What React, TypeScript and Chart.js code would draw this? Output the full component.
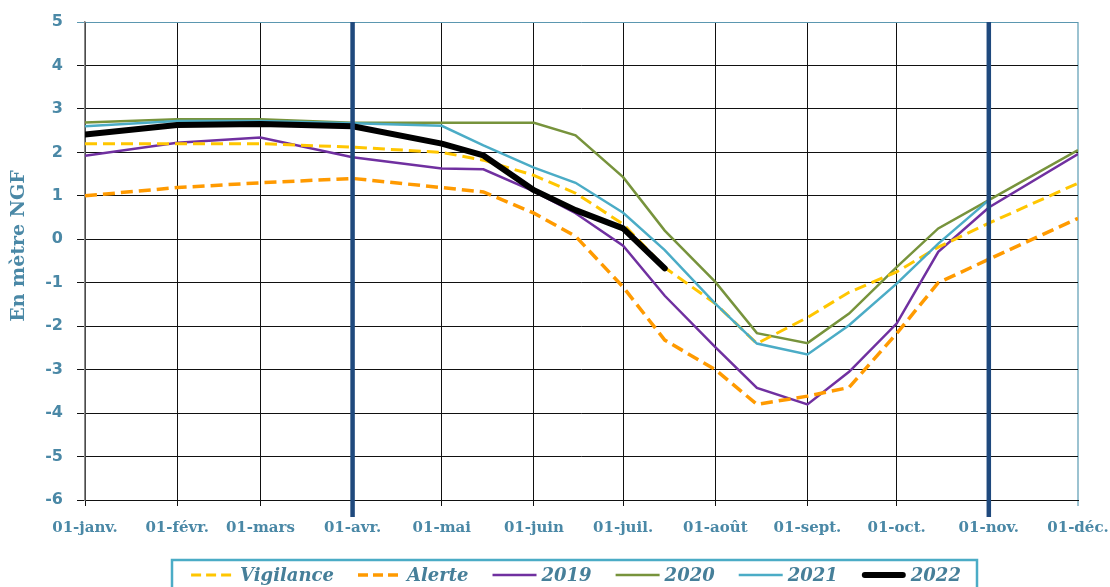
import React, { useEffect, useRef } from "react";
import { Chart, registerables } from "chart.js";
Chart.register(...registerables);

const monthStarts = [0, 31, 59, 90, 120, 151, 181, 212, 243, 273, 304, 334];
const monthLabels = ["01-janv.", "01-févr.", "01-mars", "01-avr.", "01-mai", "01-juin", "01-juil.", "01-août", "01-sept.", "01-oct.", "01-nov.", "01-déc."];
const pointDays = [0, 31, 59, 90, 120, 134, 151, 165, 181, 195, 212, 226, 243, 257, 273, 287, 304, 334];
const markerDays = [90, 304];
const yTicks = [5, 4, 3, 2, 1, 0, -1, -2, -3, -4, -5, -6];

const vigilance = [2.2, 2.2, 2.2, 2.12, 2.0, 1.82, 1.47, 1.06, 0.35, -0.65, -1.48, -2.4, -1.8, -1.22, -0.75, -0.18, 0.37, 1.29];
const alerte = [1.0, 1.19, 1.3, 1.4, 1.19, 1.09, 0.6, 0.07, -1.1, -2.32, -3.0, -3.8, -3.61, -3.41, -2.17, -1.0, -0.46, 0.48];
const y2019 = [1.92, 2.22, 2.34, 1.89, 1.63, 1.61, 1.1, 0.6, -0.15, -1.3, -2.48, -3.42, -3.8, -3.05, -1.94, -0.29, 0.73, 1.96];
const y2020 = [2.69, 2.76, 2.76, 2.68, 2.68, 2.68, 2.68, 2.39, 1.43, 0.2, -0.98, -2.16, -2.39, -1.71, -0.64, 0.25, 0.9, 2.05];
const y2021 = [2.6, 2.72, 2.72, 2.67, 2.61, 2.16, 1.65, 1.3, 0.61, -0.25, -1.48, -2.4, -2.65, -1.98, -1.02, -0.1, 0.9, null];
const y2022 = [2.41, 2.63, 2.65, 2.6, 2.2, 1.93, 1.13, 0.67, 0.25, -0.67, null, null, null, null, null, null, null, null];

const seriesLabels = ["Vigilance", "Alerte", "2019", "2020", "2021", "2022"];

const toPoints = (vals: (number | null)[]) => pointDays.map((d, i) => ({ x: d, y: vals[i] }));

const TICK_COLOR = "#4a88a6";
const LEGEND_COLOR = "#467f99";

export default function App() {
  const ref = useRef<HTMLCanvasElement | null>(null);
  useEffect(() => {
    if (!ref.current) return;
    const datasets: any[] = [
      { label: seriesLabels[0], data: toPoints(vigilance), borderColor: "#ffc600", borderWidth: 3, borderDash: [12, 6], order: 3, legendDash: [10, 5] },
      { label: seriesLabels[1], data: toPoints(alerte), borderColor: "#ff9a00", borderWidth: 3.5, borderDash: [12, 6], order: 4, legendDash: [10, 5] },
      { label: seriesLabels[2], data: toPoints(y2019), borderColor: "#7030a0", borderWidth: 2.5, order: 5 },
      { label: seriesLabels[3], data: toPoints(y2020), borderColor: "#77933c", borderWidth: 2.5, order: 6 },
      { label: seriesLabels[4], data: toPoints(y2021), borderColor: "#4bacc6", borderWidth: 2.5, order: 2 },
      { label: seriesLabels[5], data: toPoints(y2022), borderColor: "#000000", borderWidth: 6, order: 0, borderCapStyle: "round", borderJoinStyle: "round" },
    ];

    const extras = {
      id: "extras",
      afterDatasetsDraw(chart: any) {
        const { ctx, chartArea, scales } = chart;
        ctx.save();
        ctx.strokeStyle = "#1f497d";
        ctx.lineWidth = 4.5;
        markerDays.forEach((d) => {
          const x = scales.x.getPixelForValue(d);
          ctx.beginPath();
          ctx.moveTo(x, chartArea.top);
          ctx.lineTo(x, chartArea.bottom + 17);
          ctx.stroke();
        });
        ctx.restore();
      },
      afterDraw(chart: any) {
        const { ctx } = chart;
        ctx.save();
        ctx.translate(19, 246);
        ctx.rotate(-Math.PI / 2);
        ctx.font = 'bold 19px "DejaVu Serif"';
        ctx.fillStyle = TICK_COLOR;
        ctx.textAlign = "center";
        ctx.textBaseline = "middle";
        ctx.fillText("En mètre NGF", 0, 0);
        ctx.restore();

        ctx.save();
        ctx.font = 'italic bold 18px "DejaVu Serif"';
        const lineW = 44, gapLT = 5, gapItem = 24;
        const items = chart.data.datasets.map((ds: any) => ({ ds, tw: ctx.measureText(ds.label).width }));
        const total = items.reduce((s: number, it: any) => s + lineW + gapLT + it.tw, 0) + gapItem * (items.length - 1);
        let x = 576 - total / 2;
        const ly = 575;
        items.forEach((it: any) => {
          ctx.beginPath();
          ctx.strokeStyle = it.ds.borderColor;
          ctx.lineWidth = it.ds.borderWidth;
          ctx.lineCap = it.ds.borderCapStyle === "round" ? "round" : "butt";
          ctx.setLineDash(it.ds.legendDash || []);
          const pad = it.ds.borderCapStyle === "round" ? 3 : 0;
          ctx.moveTo(x + pad, ly);
          ctx.lineTo(x + lineW - pad, ly);
          ctx.stroke();
          ctx.setLineDash([]);
          ctx.fillStyle = LEGEND_COLOR;
          ctx.textAlign = "left";
          ctx.textBaseline = "middle";
          ctx.fillText(it.ds.label, x + lineW + gapLT, ly + 1);
          x += lineW + gapLT + it.tw + gapItem;
        });
        ctx.strokeStyle = "#4bacc6";
        ctx.lineWidth = 2.5;
        ctx.strokeRect(172, 560, 805, 40);
        ctx.restore();
      },
    };

    const chart = new Chart(ref.current, {
      type: "line",
      data: { datasets },
      options: {
        animation: false,
        responsive: true,
        maintainAspectRatio: false,
        layout: { padding: { left: 0, right: 32, top: 22, bottom: 42 } },
        elements: { point: { radius: 0, hoverRadius: 0 }, line: { tension: 0 } },
        plugins: { legend: { display: false }, tooltip: { enabled: false } },
        scales: {
          x: {
            type: "linear",
            min: 0,
            max: 334,
            afterBuildTicks: (scale: any) => {
              scale.ticks = monthStarts.map((v) => ({ value: v }));
            },
            afterFit: (scale: any) => {
              scale.height = 45;
              scale.paddingLeft = 0;
              scale.paddingRight = 0;
            },
            ticks: {
              autoSkip: false,
              maxRotation: 0,
              padding: 13,
              color: TICK_COLOR,
              font: { family: '"DejaVu Serif"', weight: "bold", size: 15 },
              callback: (v: any) => {
                const i = monthStarts.indexOf(Number(v));
                return i >= 0 ? monthLabels[i] : "";
              },
            },
            grid: {
              color: (c: any) => (c.tick && c.tick.value === 334 ? "#9cc3d1" : "#111"),
              lineWidth: (c: any) => (c.tick && c.tick.value === 334 ? 2 : 1),
              tickLength: 6,
            },
            border: { color: "#111", width: 1 },
          },
          y: {
            min: -6,
            max: 5,
            afterBuildTicks: (scale: any) => {
              scale.ticks = yTicks.map((v) => ({ value: v }));
            },
            afterFit: (scale: any) => {
              scale.width = 85;
              scale.paddingTop = 0;
              scale.paddingBottom = 0;
            },
            ticks: {
              padding: 14,
              color: TICK_COLOR,
              font: { family: '"DejaVu Sans"', weight: "bold", size: 16 },
              callback: (v: any) => String(v),
            },
            grid: {
              color: (c: any) => (c.tick && c.tick.value === 5 ? "#5b97b0" : "#111"),
              lineWidth: 1,
              tickLength: 8,
            },
            border: { color: "#888", width: 1.5 },
          },
        },
      },
      plugins: [extras],
    });
    return () => chart.destroy();
  }, []);

  return (
    <div style={{ position: "fixed", left: 0, top: 0, width: 1110, height: 587, background: "#fff" }}>
      <canvas ref={ref} />
    </div>
  );
}
